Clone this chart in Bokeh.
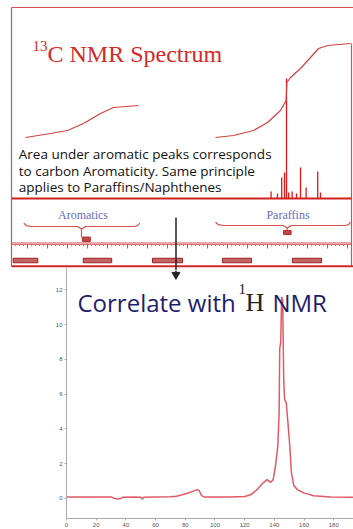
from bokeh.plotting import figure
from bokeh.models import Range1d, Label, FixedTicker
from bokeh.embed import file_html
from bokeh.resources import INLINE

# ---------------- data: 13C NMR panel (x in ppm) ----------------
c13_peak_ppm = [38.2, 35.0, 32.9, 31.5, 30.5, 29.4, 27.7, 25.5, 23.5, 20.7, 14.9, 13.5]
c13_peak_height = [7, 5, 21, 26, 120, 6, 7, 5, 31, 11, 27, 6]
arom_int_ppm = [161, 148.5, 140, 132, 123.5, 117, 104.5]
arom_int_val = [61, 65, 68, 75, 85, 91, 93]
paraf_int_ppm = [66, 57, 47, 40, 33.5, 30.7, 30.3, 28.5, 23.5, 18.5, 14.5, 10, -1.5]
paraf_int_val = [61, 63, 68, 76, 88, 98, 116, 121, 130, 141, 150, 153, 155]
ruler_major_ppm = [160, 150, 140, 130, 120, 110, 100, 90, 80, 70, 60, 50, 40, 30, 20, 10, 0]
ruler_minor_ppm = list(range(166, -3, -2))
region_labels = ["Aromatics", "Paraffins"]
region_centers = [132.25, 29.75]
strip_centers = [161, 125, 90, 55.25, 20.25]
strip_widths = [12.3, 14.2, 15, 14.5, 14.5]

# ---------------- data: 1H NMR panel ----------------
h1_x = [0, 30, 32, 34, 36, 38, 45, 50, 51, 52, 60, 70, 74, 78, 82, 85, 88, 89.5, 91, 93,
        100, 110, 120, 124, 128.4, 131.8, 135.1, 137.4, 139.2, 140.7, 142.3, 143.2, 143.6,
        144.3, 144.9, 145.6, 146.3, 146.9, 148.0, 149.0, 150.4, 151.5, 153.1, 155.4, 159.8,
        166.5, 177.8, 193]
h1_y = [0.08, 0.08, 0.0, -0.04, -0.03, 0.06, 0.07, 0.06, -0.04, 0.06, 0.08, 0.09, 0.12, 0.2,
        0.3, 0.4, 0.5, 0.42, 0.15, 0.07, 0.07, 0.08, 0.1, 0.2, 0.5, 0.84, 1.07, 0.92, 1.07,
        1.84, 2.98, 4.9, 8.6, 9.0, 11.6, 11.4, 6.8, 5.7, 5.5, 4.5, 3.0, 1.46, 0.73, 0.5, 0.31,
        0.15, 0.08, 0.06]
h1_xticks = [0, 20, 40, 60, 80, 100, 120, 140, 160, 180]
h1_yticks = [0, 2, 4, 6, 8, 10, 12]

RED = "#d42a2a"
BOX = "#d85050"

# ---------------- top figure ----------------
top = figure(width=353, height=270, x_range=Range1d(173.5, -3), y_range=Range1d(-72, 198),
             x_axis_location=None, y_axis_location=None, toolbar_location=None,
             output_backend="svg", min_border=0, outline_line_color=None)
top.grid.visible = False

# slide box borders
top.line([168, 168], [191, -67.7], line_color=BOX, line_width=1.2)
top.line([168, -3], [191, 191], line_color=BOX, line_width=1.2)
top.line([-2, -2], [155, -67.7], line_color=BOX, line_width=1.2)
top.line([168, -3], [-67.7, -67.7], line_color="#cc2a2a", line_width=2)

# spectrum baseline + peaks
top.line([168, -2], [0, 0], line_color="#d02020", line_width=1.8)
top.segment(x0=c13_peak_ppm, y0=[0] * len(c13_peak_ppm), x1=c13_peak_ppm, y1=c13_peak_height,
            line_color="#e01818", line_width=1.3)

# integral curves
top.line(arom_int_ppm, arom_int_val, line_color="#d04040", line_width=1.2)
top.line(paraf_int_ppm, paraf_int_val, line_color="#d04040", line_width=1.2)

# brackets
top.line([161.85, 160.5, 158, 135, 133, 131, 106.5, 105, 103.85],
         [-24.7, -27.2, -28, -28, -30.5, -28, -28, -27.2, -24.7], line_color=BOX, line_width=1.2)
top.line([133, 133], [-30.5, -38.7], line_color=BOX, line_width=1.2)
top.rect(x=[130.6], y=[-40.8], width=4, height=4.5, fill_color="#c04545", line_color="#b03030")
top.line([66, 64.5, 62, 32.2, 30.15, 28.1, 1.0, -0.5, -1.5],
         [-23.7, -26.2, -27, -27, -29.5, -27, -27, -26.2, -23.7], line_color=BOX, line_width=1.2)
top.line([30.15, 30.15], [-29.5, -31.5], line_color=BOX, line_width=1.2)
top.rect(x=[30.1], y=[-34], width=3.8, height=4, fill_color="#c04545", line_color="#b03030")

# ruler
top.line([168, -2], [-44.5, -44.5], line_color=BOX, line_width=1.2)
top.line([168, -2], [-46, -46], line_color=BOX, line_width=0.8)
top.segment(x0=ruler_minor_ppm, y0=[-46] * len(ruler_minor_ppm), x1=ruler_minor_ppm,
            y1=[-47.5] * len(ruler_minor_ppm), line_color=BOX, line_width=0.8)
top.segment(x0=ruler_major_ppm, y0=[-46] * len(ruler_major_ppm), x1=ruler_major_ppm,
            y1=[-50] * len(ruler_major_ppm), line_color=BOX, line_width=1)

# bottom strip label boxes
top.rect(x=strip_centers, y=[-62] * 5, width=strip_widths, height=4.5,
         fill_color="#b84848", fill_alpha=0.85, line_color="#a02020")

# arrow shaft and bit of lower axis
top.line([85.75, 85.75], [-19, -72], line_color="#222222", line_width=1.5)
top.line([140.5, 140.5], [-69, -72], line_color="#aaaaaa", line_width=1)

# texts
top.add_layout(Label(x=157.5, y=153, text="13", text_font="Liberation Serif", text_font_size="15px",
                     text_color=RED, text_baseline="alphabetic"))
top.add_layout(Label(x=150, y=144.7, text="C NMR Spectrum", text_font="Liberation Serif",
                     text_font_size="24px", text_color=RED, text_baseline="alphabetic"))
body = ["Area under aromatic peaks corresponds", "to carbon Aromaticity. Same principle",
        "applies to Paraffins/Naphthenes"]
for t, yy in zip(body, [44.7, 28, 11.3]):
    top.add_layout(Label(x=164.35, y=yy, text=t, text_font="Open Sans", text_font_size="13.5px",
                         text_color="#111111", text_baseline="alphabetic"))
for t, xx in zip(region_labels, region_centers):
    top.add_layout(Label(x=xx, y=-16, text=t, text_font="Liberation Serif", text_font_size="12px",
                         text_color="#6a6ab8", text_align="center", text_baseline="middle"))

# ---------------- bottom figure ----------------
bot = figure(width=353, height=259, x_range=Range1d(0, 193.3), y_range=Range1d(-1.165, 13.12),
             toolbar_location=None, output_backend="svg", min_border_left=66, min_border_right=0,
             min_border_top=0, min_border_bottom=10, outline_line_color=None)
bot.grid.visible = False
for ax in (bot.xaxis[0], bot.yaxis[0]):
    ax.axis_line_color = "#aaaaaa"
    ax.major_tick_line_color = "#aaaaaa"
    ax.major_tick_out = 2
    ax.major_tick_in = 0
    ax.minor_tick_out = 0
    ax.minor_tick_in = 0
    ax.major_label_text_font_size = "6px"
    ax.major_label_text_color = "#555555"
    ax.major_label_standoff = 2
bot.xaxis.ticker = FixedTicker(ticks=h1_xticks)
bot.yaxis.ticker = FixedTicker(ticks=h1_yticks)

bot.line(h1_x, h1_y, line_color="#e05a66", line_width=1.5)

# arrow head
bot.line([73.7, 73.7], [13.12, 12.9], line_color="#222222", line_width=1.5)
bot.scatter(x=[73.7], y=[12.88], marker="inverted_triangle", size=8, color="#222222")

NAVY = "#1e1e6e"
bot.add_layout(Label(x=7.4, y=11.3, text="Correlate with", text_font="Open Sans", text_font_size="24px",
                     text_color=NAVY, text_baseline="alphabetic"))
bot.add_layout(Label(x=115.8, y=12.36, text="1", text_font="Liberation Serif", text_font_size="15px",
                     text_color="#222222", text_baseline="top"))
bot.add_layout(Label(x=120.5, y=11.3, text="H", text_font="Liberation Serif", text_font_size="26px",
                     text_color="#222222", text_baseline="alphabetic"))
bot.add_layout(Label(x=138.7, y=11.3, text="NMR", text_font="Open Sans", text_font_size="24px",
                     text_color=NAVY, text_baseline="alphabetic"))
# slide text at the left
bot.add_layout(Label(x=-44.4, y=2.39, text="riate", text_font="Open Sans", text_font_size="17px",
                     text_color="#111111", text_baseline="alphabetic"))
bot.add_layout(Label(x=-44.4, y=-0.65, text="rocess", text_font="Open Sans", text_font_size="17px",
                     text_color="#111111", text_baseline="alphabetic"))

open("out.html", "w").write(file_html([top, bot], INLINE))
